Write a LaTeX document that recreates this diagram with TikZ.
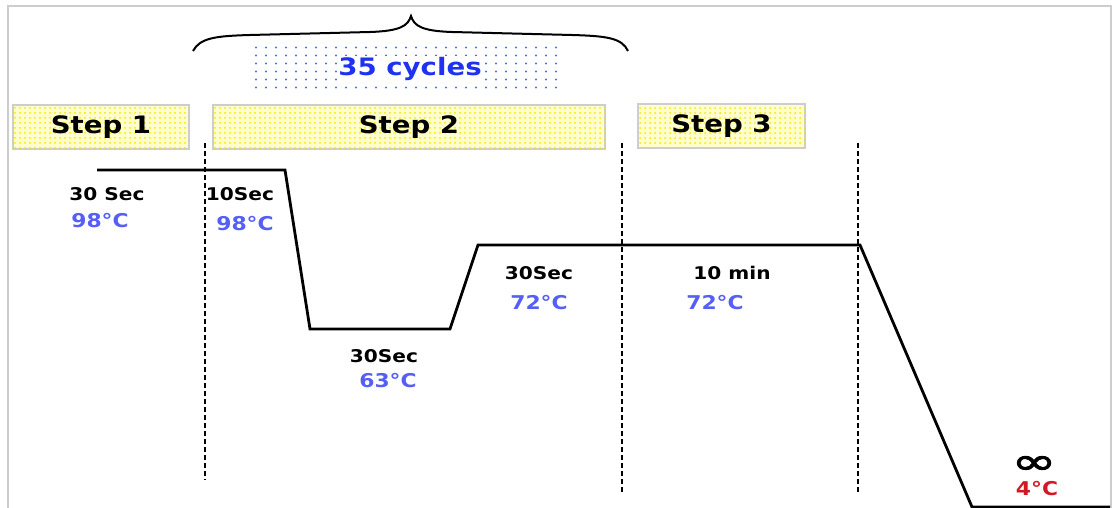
\documentclass[tikz,border=0pt]{standalone}
\usepackage{fontspec}
\setmainfont{DejaVu Sans}[FakeStretch=1.15]
\newfontfamily\inffont{DejaVu Sans}[FakeStretch=1.5,FakeBold=2.5]
\usetikzlibrary{patterns.meta}
\definecolor{tblue}{RGB}{85,95,245}
\definecolor{cblue}{RGB}{30,50,240}
\definecolor{dblue}{RGB}{70,110,250}
\definecolor{tred}{RGB}{210,25,35}
\definecolor{frame}{RGB}{205,205,205}
\definecolor{pyel}{RGB}{255,255,205}
\definecolor{dyel}{RGB}{250,230,0}
\tikzset{
  stepbox/.style={draw=frame, line width=1.4pt, fill=pyel, minimum height=44pt, inner sep=0pt,
    postaction={pattern={Dots[radius=1pt,distance=5pt]}, pattern color=dyel},
    font=\bfseries\fontsize{24}{24}\selectfont},
  lbl/.style={font=\bfseries\fontsize{17.5}{17.5}\selectfont, text=black, inner sep=0pt},
  tmp/.style={font=\bfseries\fontsize{19}{19}\selectfont, text=tblue, inner sep=0pt},
  sep/.style={line width=2pt, dash pattern=on 5pt off 3pt},
  prof/.style={line width=2.8pt, line join=miter},
}
\begin{document}
\begin{tikzpicture}[x=1pt,y=-1pt]
\useasboundingbox (0,0) rectangle (1119,508);
\fill[white] (0,0) rectangle (1119,508);
% frame
\draw[frame, line width=1.6pt] (8,512) -- (8,6) -- (1111,6) -- (1111,512);
% brace
\draw[line width=2pt] (193,51) .. controls (200,38) and (215,36) .. (250,35)
  -- (370,32) .. controls (400,31) and (408,26) .. (411,16)
  .. controls (414,26) and (422,31) .. (452,32) -- (572,35)
  .. controls (607,36) and (622,38) .. (628,51);
% dotted blue region
\foreach \i in {0,...,30} {
  \foreach \j in {0,...,5} {
    \fill[dblue] (256+10*\i,47.5+8*\j) circle (1.2pt);
  }
}
\node[fill=white, inner sep=1pt, text=cblue, font=\bfseries\fontsize{24}{24}\selectfont] (cyc) at (410,69) {35 cycles};
% step boxes
\node[stepbox, minimum width=176pt] (s1) at (101,127) {Step 1};
\node[stepbox, minimum width=392pt] (s2) at (409,127) {Step 2};
\node[stepbox, minimum width=167pt] (s3) at (721.5,126) {Step 3};
% separators
\coordinate (d1t) at (205,143); \coordinate (d1b) at (205,480);
\coordinate (d2t) at (622,143); \coordinate (d2b) at (622,492);
\coordinate (d3t) at (858,143); \coordinate (d3b) at (858,492);
\draw[sep] (d1t) -- (d1b);
\draw[sep] (d2t) -- (d2b);
\draw[sep] (d3t) -- (d3b);
% profile
\coordinate (p0) at (97,170);
\coordinate (p1) at (285,170);
\coordinate (p2) at (310,329);
\coordinate (p3) at (450,329);
\coordinate (p4) at (478,245);
\coordinate (p5) at (860,245);
\coordinate (p6) at (972,507);
\coordinate (p7) at (1110,507);
\draw[prof] (p0) -- (p1) -- (p2) -- (p3) -- (p4) -- (p5) -- (p6) -- (p7);
% labels
\node[lbl] (l1) at (107,194) {30 Sec};
\node[tmp] (t1) at (100,221) {98°C};
\node[lbl] (l2) at (240,194) {10Sec};
\node[tmp] (t2) at (245,224) {98°C};
\node[lbl] (l3) at (384,356) {30Sec};
\node[tmp] (t3) at (388,381) {63°C};
\node[lbl] (l4) at (539,273) {30Sec};
\node[tmp] (t4) at (539,303) {72°C};
\node[lbl] (l5) at (732,273) {10 min};
\node[tmp] (t5) at (715,303) {72°C};
\node[font=\inffont\fontsize{36}{36}\selectfont, inner sep=0pt] (inf) at (1034,465) {∞};
\node[tmp, text=tred] (t6) at (1037,489) {4°C};
\end{tikzpicture}
\end{document}
